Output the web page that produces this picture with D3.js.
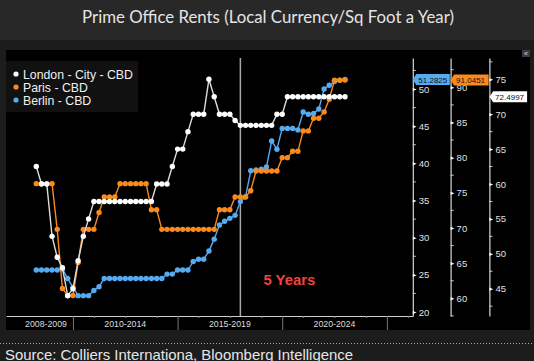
<!DOCTYPE html>
<html>
<head>
<meta charset="utf-8">
<script src="https://cdn.jsdelivr.net/npm/d3@7"></script>
<style>
  html, body { margin: 0; padding: 0; background: #1c1c1c; overflow: hidden; }
  text { font-family: "Liberation Sans", Arial, sans-serif; }
</style>
</head>
<body>
<div id="chart"></div>
<script>
// ---- data ----
const firstQuarter = "2008-04-01";
const lastQuarter = "2023-01-01";
const seriesNames = ["London - City - CBD", "Paris - CBD", "Berlin - CBD"];

const london = [62.5, 60, 60, 52.5, 49.5, 48, 44, 45, 49, 52.5, 55,
  57.5, 57.5, 57.5, 57.5, 57.5, 57.5, 57.5, 57.5, 57.5, 57.5, 57.5, 57.5,
  60, 60, 60, 62.5, 65, 65, 67.5, 70, 70, 70, 75, 72.5, 70, 70, 70, 69.1,
  68.4, 68.4, 68.4, 68.4, 68.4, 68.4, 68.4, 70, 70,
  72.5, 72.5, 72.5, 72.5, 72.5, 72.5, 72.5, 72.5, 72.5, 72.5, 72.5, 72.4997];

const paris = [76.3, 76.3, 76.3, 76.3, 69.8, 61.4, 60.4, 60.4, 65.1, 69.8, 69.8, 69.8,
  72.2, 74.4, 74.4, 74.4, 76.3, 76.3, 76.3, 76.3, 76.3, 76.3, 72.6, 72.6,
  69.8, 69.8, 69.8, 69.8, 69.8, 69.8, 69.8, 69.8, 69.8, 69.8, 69.8,
  72.6, 72.6, 72.6, 74.4, 74.4, 74.4, 75.3, 78.1, 78.1, 78.1, 78.1, 78.1,
  80.0, 80.0, 80.9, 80.9, 83.8, 83.8, 85.6, 85.6, 86.5, 88.3, 91.0, 91.0, 91.0451];

const berlin = [25.65, 25.65, 25.65, 25.65, 25.65, 25.8, 24.5, 23.3, 22.2, 22.2, 22.2,
  22.9, 23.4, 24.5, 24.5, 24.5, 24.5, 24.5, 24.5, 24.5, 24.5, 24.5, 24.5, 24.5, 24.5,
  25.1, 25.1, 25.65, 25.65, 25.65, 26.8, 27.1, 27.1, 28.2, 29.8, 31.7, 32.2, 32.6,
  33.0, 34.85, 35.5, 39.0, 39.1, 39.2, 39.5, 43.0, 41.9, 44.7, 44.7, 44.7, 44.5,
  46.9, 46.6, 46.7, 47.3, 50.0, 50.5, 51.0, 51.2, 51.2825];

const periodLabels = ["2008-2009", "2010-2014", "2015-2019", "2020-2024"];
const periodYears = [2008, 2010, 2015, 2020, 2025];
const minorYears = [2011, 2012.5, 2014, 2016, 2017.5, 2019, 2021, 2022.5, 2024, 2026];

const berlinTicks = [20, 25, 30, 35, 40, 45, 50];
const parisTicks = [60, 65, 70, 75, 80, 85, 90];
const londonTicks = [45, 50, 55, 60, 65, 70, 75];

const colors = { london: "#ffffff", paris: "#fb8a1c", berlin: "#56aaf0" };

// shrink/grow a text selection so the first node spans the target width
function fitWidth(sel, target) {
  const w = sel.node().getComputedTextLength();
  const fs = parseFloat(sel.attr("font-size"));
  sel.attr("font-size", (fs * target / w).toFixed(2) + "px");
}

function draw(ax) {
  const width = 534, height = 361;
  const top = 58, bottom = 316, left = 6, right = 412.8;

  const svg = d3.select(ax).append("svg")
    .attr("width", width)
    .attr("height", height);

  // backgrounds
  svg.append("rect").attr("width", width).attr("height", 40).attr("fill", "#282828");
  const title = svg.append("text")
    .attr("x", width / 2 + 1).attr("y", 23)
    .attr("text-anchor", "middle")
    .style("font-family", "Lato, sans-serif")
    .attr("font-size", "16px")
    .attr("fill", "#e4e4e4")
    .text("Prime Office Rents (Local Currency/Sq Foot a Year)");
  fitWidth(title, 372);

  svg.append("rect").attr("x", 6).attr("y", 50).attr("width", 524).attr("height", 280).attr("fill", "#000");
  svg.append("rect").attr("x", 522).attr("y", 50).attr("width", 8).attr("height", 7).attr("fill", "#3c3c3c");
  svg.append("text").attr("x", 526).attr("y", 56).attr("text-anchor", "middle")
    .attr("font-size", "7px").attr("fill", "#ddd").text("«");

  // scales
  const dates = d3.utcMonth.range(new Date(firstQuarter), d3.utcDay.offset(new Date(lastQuarter), 1), 3);
  const xBase = d3.scaleUtc().domain([dates[0], dates[dates.length - 1]]).range([36.3, 345]);
  const x = xBase.copy().domain([xBase.invert(left), xBase.invert(right)]).range([left, right]);
  const yearDate = y => new Date(Date.UTC(Math.floor(y), Math.round((y % 1) * 12), 1));

  function extend(v0, p0, v1, p1) {
    const s = d3.scaleLinear().domain([v0, v1]).range([p0, p1]);
    return s.copy().domain([s.invert(bottom), s.invert(top)]).range([bottom, top]);
  }
  const yB = extend(20, 312, 50, 89);
  const yP = extend(60, 298.3, 90, 87.3);
  const yL = extend(45, 288.7, 75, 79.3);

  // x axis with period bands
  const xAxis = svg.append("g").attr("transform", `translate(0, ${bottom})`);
  xAxis.call(d3.axisBottom(x).tickValues(periodYears.slice(1).map(yearDate)).tickSize(14).tickSizeOuter(0).tickFormat(""));
  xAxis.select(".domain").attr("stroke", "#d0d0d0");
  xAxis.selectAll(".tick line").attr("stroke", "#777");
  const minorAxis = svg.append("g").attr("transform", `translate(0, ${bottom})`);
  minorAxis.call(d3.axisBottom(x).tickValues(minorYears.map(yearDate)).tickSize(2).tickFormat(""));
  minorAxis.select(".domain").remove();
  minorAxis.selectAll(".tick line").attr("stroke", "#888");

  const periodText = svg.append("g").selectAll("text")
    .data(periodLabels)
    .enter()
    .append("text")
    .attr("x", (d, i) => (Math.max(x(yearDate(periodYears[i])), left) + x(yearDate(periodYears[i + 1]))) / 2 - (i === 0 ? 6 : 0))
    .attr("y", 327)
    .attr("text-anchor", "middle")
    .attr("font-size", "9px")
    .attr("fill", "#ddd")
    .text(d => d);
  fitWidth(periodText, 42);
  periodText.attr("font-size", periodText.attr("font-size"));

  // 5 years marker
  const fiveBack = d3.utcYear.offset(dates[dates.length - 1], -5);
  svg.append("line")
    .attr("x1", x(fiveBack)).attr("x2", x(fiveBack))
    .attr("y1", top).attr("y2", bottom)
    .attr("stroke", "#a8a8a8").attr("stroke-width", 1.5);
  const five = svg.append("text")
    .attr("x", x(fiveBack) + 23).attr("y", 285)
    .attr("font-size", "14px").attr("font-weight", "bold")
    .attr("fill", "#f0433f")
    .text("5 Years");
  fitWidth(five, 52);

  // right-hand value axes
  function valueAxis(scale, xPos, ticks) {
    const g = svg.append("g").attr("transform", `translate(${xPos}, 0)`);
    g.call(d3.axisRight(scale).tickValues(ticks).tickSize(0).tickPadding(6).tickSizeOuter(0));
    g.select(".domain").attr("stroke", "#d8d8d8").attr("stroke-width", 1.2);
    g.selectAll(".tick text").attr("fill", "#e0e0e0").attr("font-size", "9.5px")
      .style("font-family", "Liberation Sans, Arial, sans-serif");
    g.selectAll(".tick").append("path")
      .attr("d", "M0,-1.6L3.8,0L0,1.6Z")
      .attr("fill", "#fff");
    const [lo, hi] = scale.domain();
    const minor = d3.range(Math.ceil(lo / 2.5) * 2.5, hi, 2.5).filter(v => v % 5 !== 0);
    g.selectAll(".minor")
      .data(minor)
      .enter()
      .append("line")
      .attr("class", "minor")
      .attr("x1", 0).attr("x2", 3)
      .attr("y1", d => scale(d)).attr("y2", d => scale(d))
      .attr("stroke", "#ccc");
  }
  valueAxis(yB, 412.8, berlinTicks);
  valueAxis(yP, 450.6, parisTicks);
  valueAxis(yL, 489.4, londonTicks);

  // series
  const series = [
    { key: "berlin", values: berlin, y: yB, axisX: 412.8, boxW: 37 },
    { key: "paris", values: paris, y: yP, axisX: 450.6, boxW: 38 },
    { key: "london", values: london, y: yL, axisX: 489.6, boxW: 37.5 }
  ];

  series.forEach(s => {
    const pts = s.values.map((v, i) => ({ date: dates[i], value: v }));
    const line = d3.line().x(d => x(d.date)).y(d => s.y(d.value));
    svg.append("path")
      .datum(pts)
      .attr("d", line)
      .attr("fill", "none")
      .attr("stroke", s.key === "london" ? "#dcdcdc" : colors[s.key])
      .attr("stroke-width", 1.4);
    svg.append("g").selectAll("circle")
      .data(pts)
      .enter()
      .append("circle")
      .attr("cx", d => x(d.date))
      .attr("cy", d => s.y(d.value))
      .attr("r", 2.7)
      .attr("fill", colors[s.key]);
  });

  // last value tags
  series.forEach(s => {
    const last = s.values[s.values.length - 1];
    const cy = s.y(last);
    const x0 = s.axisX, w = s.boxW, h = 11;
    const tag = svg.append("g");
    tag.append("path")
      .attr("d", `M${x0},${cy}L${x0 + 3.5},${cy - h / 2}H${x0 + w}V${cy + h / 2}H${x0 + 3.5}Z`)
      .attr("fill", colors[s.key]);
    const t = tag.append("text")
      .attr("x", x0 + 5.5).attr("y", cy + 3.4)
      .attr("font-size", "9px")
      .attr("fill", "#111")
      .text(last);
    fitWidth(t, 29);
  });

  // legend
  const legend = svg.append("g");
  legend.append("rect")
    .attr("x", 6).attr("y", 61).attr("width", 132).attr("height", 51)
    .attr("fill", "#111");
  const keys = ["london", "paris", "berlin"];
  const items = legend.selectAll(".legend-item")
    .data(seriesNames)
    .enter()
    .append("g")
    .attr("class", "legend-item")
    .attr("transform", (d, i) => `translate(16, ${74 + i * 13})`);
  items.append("circle").attr("r", 2.6).attr("fill", (d, i) => colors[keys[i]]);
  const legendText = items.append("text")
    .attr("x", 7).attr("y", 4.5)
    .attr("font-size", "12px")
    .attr("fill", "#f0f0f0")
    .text(d => d);
  fitWidth(legendText, 110);
  legendText.attr("font-size", legendText.attr("font-size"));

  // footer
  svg.append("line")
    .attr("x1", 0).attr("x2", width).attr("y1", 343.5).attr("y2", 343.5)
    .attr("stroke", "#aaa").attr("stroke-dasharray", "1,2");
  const source = svg.append("text")
    .attr("x", 5).attr("y", 359.5)
    .attr("font-size", "14px")
    .attr("fill", "#e6e6e6")
    .text("Source: Colliers Internationa, Bloomberg Intelligence");
  fitWidth(source, 348);
}

draw("#chart");
</script>
</body>
</html>
